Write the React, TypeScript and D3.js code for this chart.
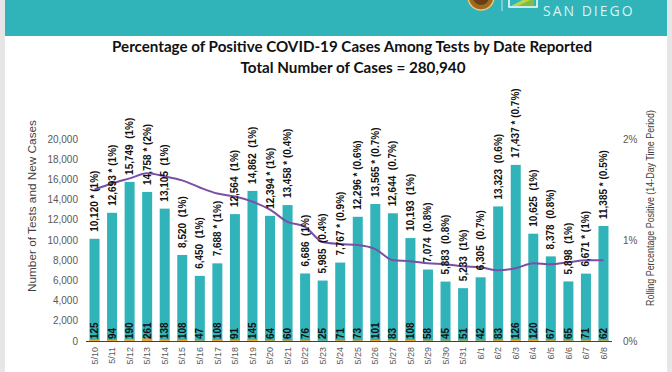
import React from 'react';
import * as d3 from 'd3';

// data
const dates = ['5/10', '5/11', '5/12', '5/13', '5/14', '5/15', '5/16', '5/17', '5/18', '5/19',
  '5/20', '5/21', '5/22', '5/23', '5/24', '5/25', '5/26', '5/27', '5/28', '5/29',
  '5/30', '5/31', '6/1', '6/2', '6/3', '6/4', '6/5', '6/6', '6/7', '6/8'];
const tests = [10120, 12693, 15749, 14758, 13105, 8520, 6450, 7688, 12564, 14862,
  12394, 13458, 6686, 5985, 7767, 12296, 13565, 12644, 10193, 7074,
  5883, 5233, 6305, 13323, 17437, 10625, 8378, 5898, 6671, 11385];
const cases = [125, 94, 190, 261, 138, 108, 47, 108, 91, 145,
  64, 60, 76, 25, 71, 73, 101, 83, 108, 58,
  45, 51, 42, 83, 126, 120, 67, 65, 71, 62];
const dailyPct = ['1%', '1%', '1%', '2%', '1%', '1%', '1%', '1%', '1%', '1%',
  '1%', '0.4%', '1%', '0.4%', '0.9%', '0.6%', '0.7%', '0.7%', '1%', '0.8%',
  '0.8%', '1%', '0.7%', '0.6%', '0.7%', '1%', '0.8%', '1%', '1%', '0.5%'];
const starred = [1, 1, 0, 1, 0, 0, 0, 1, 0, 0,
  1, 1, 0, 0, 1, 1, 1, 0, 0, 0,
  0, 0, 0, 0, 1, 0, 0, 0, 1, 1];
const rolling = [1.50, 1.56, 1.61, 1.66, 1.63, 1.59, 1.52, 1.46, 1.43, 1.38,
  1.30, 1.18, 1.13, 0.98, 0.96, 0.95, 0.91, 0.80, 0.79, 0.77,
  0.76, 0.74, 0.73, 0.70, 0.72, 0.77, 0.76, 0.78, 0.80, 0.80];
const leftTicks = [0, 2000, 4000, 6000, 8000, 10000, 12000, 14000, 16000, 18000, 20000];
const rightTicks = [0, 1, 2];

const W = 672;
const H = 372;
const TEAL = '#30b4b9';
const FONT = '"Liberation Sans", Arial, sans-serif';

export default function App() {
  const x = d3.scaleBand<string>().domain(dates).range([86, 612]).paddingInner(0.43).paddingOuter(0.2);
  const y = d3.scaleLinear().domain([0, 20000]).range([341, 139]);
  const y2 = d3.scaleLinear().domain([0, 2]).range([341, 139]);
  const cx = (d: string) => x(d)! + x.bandwidth() / 2;

  const line = d3.line<number>()
    .x((_, i) => cx(dates[i]))
    .y((v) => y2(v))
    .curve(d3.curveMonotoneX);

  const fmt = d3.format(',');

  return (
    <svg width={W} height={H} style={{ position: 'fixed', left: 0, top: 0, background: '#fff' }}
      fontFamily={FONT}>
      {/* page frame */}
      <rect x={0} y={0} width={W} height={H} fill="#fff" />
      <rect x={0} y={0} width={5} height={H} fill="#e6e6e6" />
      <rect x={667} y={0} width={5} height={H} fill="#e6e6e6" />
      <rect x={5} y={0} width={662} height={36} fill={TEAL} />

      {/* header logo */}
      <circle cx={481} cy={-3} r={13} fill="#9a6a22" stroke="#f2c46a" strokeWidth={1.5} />
      <circle cx={481} cy={-3} r={8} fill="#6b3d12" />
      <line x1={502} x2={502} y1={0} y2={11} stroke="#bfe8ea" strokeWidth={1} />
      <rect x={509} y={-8} width={28} height={15} fill="none" stroke="#ffffff" strokeWidth={1.5} />
      <path d="M511,6 L534,-6 L534,6 Z" fill="#b9d64a" />
      <path d="M518,6 L534,-2 L534,6 Z" fill="#7fbf3f" />
      <text x={543} y={16} fontSize={14} fill="#d8f3f3" letterSpacing={2}
        fontFamily='"Open Sans", sans-serif'>SAN DIEGO</text>

      {/* titles */}
      <text x={352} y={52} textAnchor="middle" fontSize={15.5} fontWeight="bold" fill="#111"
        fontFamily='Lato, sans-serif' textLength={480} lengthAdjust="spacingAndGlyphs">
        Percentage of Positive COVID-19 Cases Among Tests by Date Reported
      </text>
      <text x={353} y={73} textAnchor="middle" fontSize={15.5} fontWeight="bold" fill="#111"
        fontFamily='Lato, sans-serif' textLength={225} lengthAdjust="spacingAndGlyphs">
        Total Number of Cases = 280,940
      </text>

      {/* left axis */}
      {leftTicks.map((t) => (
        <text key={t} x={78} y={y(t)} dy="0.35em" textAnchor="end" fontSize={10} fill="#595959">
          {fmt(t)}
        </text>
      ))}
      <text transform={`translate(32,${206}) rotate(-90)`} textAnchor="middle" dy="0.35em"
        fontSize={11.5} fill="#404040" textLength={172} lengthAdjust="spacingAndGlyphs">
        Number of Tests and New Cases</text>

      {/* right axis */}
      {rightTicks.map((t) => (
        <text key={t} x={623} y={y2(t)} dy="0.35em" fontSize={10} fill="#595959">{t}%</text>
      ))}
      <text transform={`translate(650,${208}) rotate(-90)`} textAnchor="middle" dy="0.35em"
        fontSize={11.5} fill="#404040" textLength={196} lengthAdjust="spacingAndGlyphs"
        fontFamily='"Liberation Sans Narrow", "Liberation Sans", sans-serif'>
        Rolling Percentage Positive (14-Day Time Period)</text>

      {/* test bars */}
      {dates.map((d, i) => (
        <rect key={'t' + d} x={x(d)} y={y(tests[i])} width={x.bandwidth()}
          height={y(0) - y(tests[i])} fill={TEAL} />
      ))}
      {/* case bars */}
      {dates.map((d, i) => (
        <rect key={'c' + d} x={x(d)} y={y(cases[i])} width={x.bandwidth()}
          height={Math.max(1, y(0) - y(cases[i]))} fill="#f0a526" />
      ))}

      {/* x axis */}
      <line x1={86} x2={612} y1={341.5} y2={341.5} stroke="#404040" strokeWidth={1} />
      {dates.map((d) => (
        <text key={'x' + d} transform={`translate(${cx(d)},347) rotate(-90)`} textAnchor="end"
          dy="0.35em" fontSize={9} fill="#595959">{d}</text>
      ))}

      {/* rolling percentage line */}
      <path d={line(rolling) || ''} fill="none" stroke="#7a4fa6" strokeWidth={2} />

      {/* bar labels */}
      {dates.map((d, i) => (
        <text key={'l' + d} transform={`translate(${cx(d)},${y(tests[i]) - 7}) rotate(-90)`}
          dy="0.35em" fontSize={10} fontWeight="bold" fill="#111" style={{ whiteSpace: 'pre' }}>
          {starred[i] ? `${fmt(tests[i])} * (${dailyPct[i]})` : `${fmt(tests[i])}  (${dailyPct[i]})`}
        </text>
      ))}
      {dates.map((d, i) => (
        <text key={'n' + d} transform={`translate(${cx(d)},339) rotate(-90)`}
          dy="0.35em" fontSize={10} fontWeight="bold" fill="#111">{cases[i]}</text>
      ))}
    </svg>
  );
}
